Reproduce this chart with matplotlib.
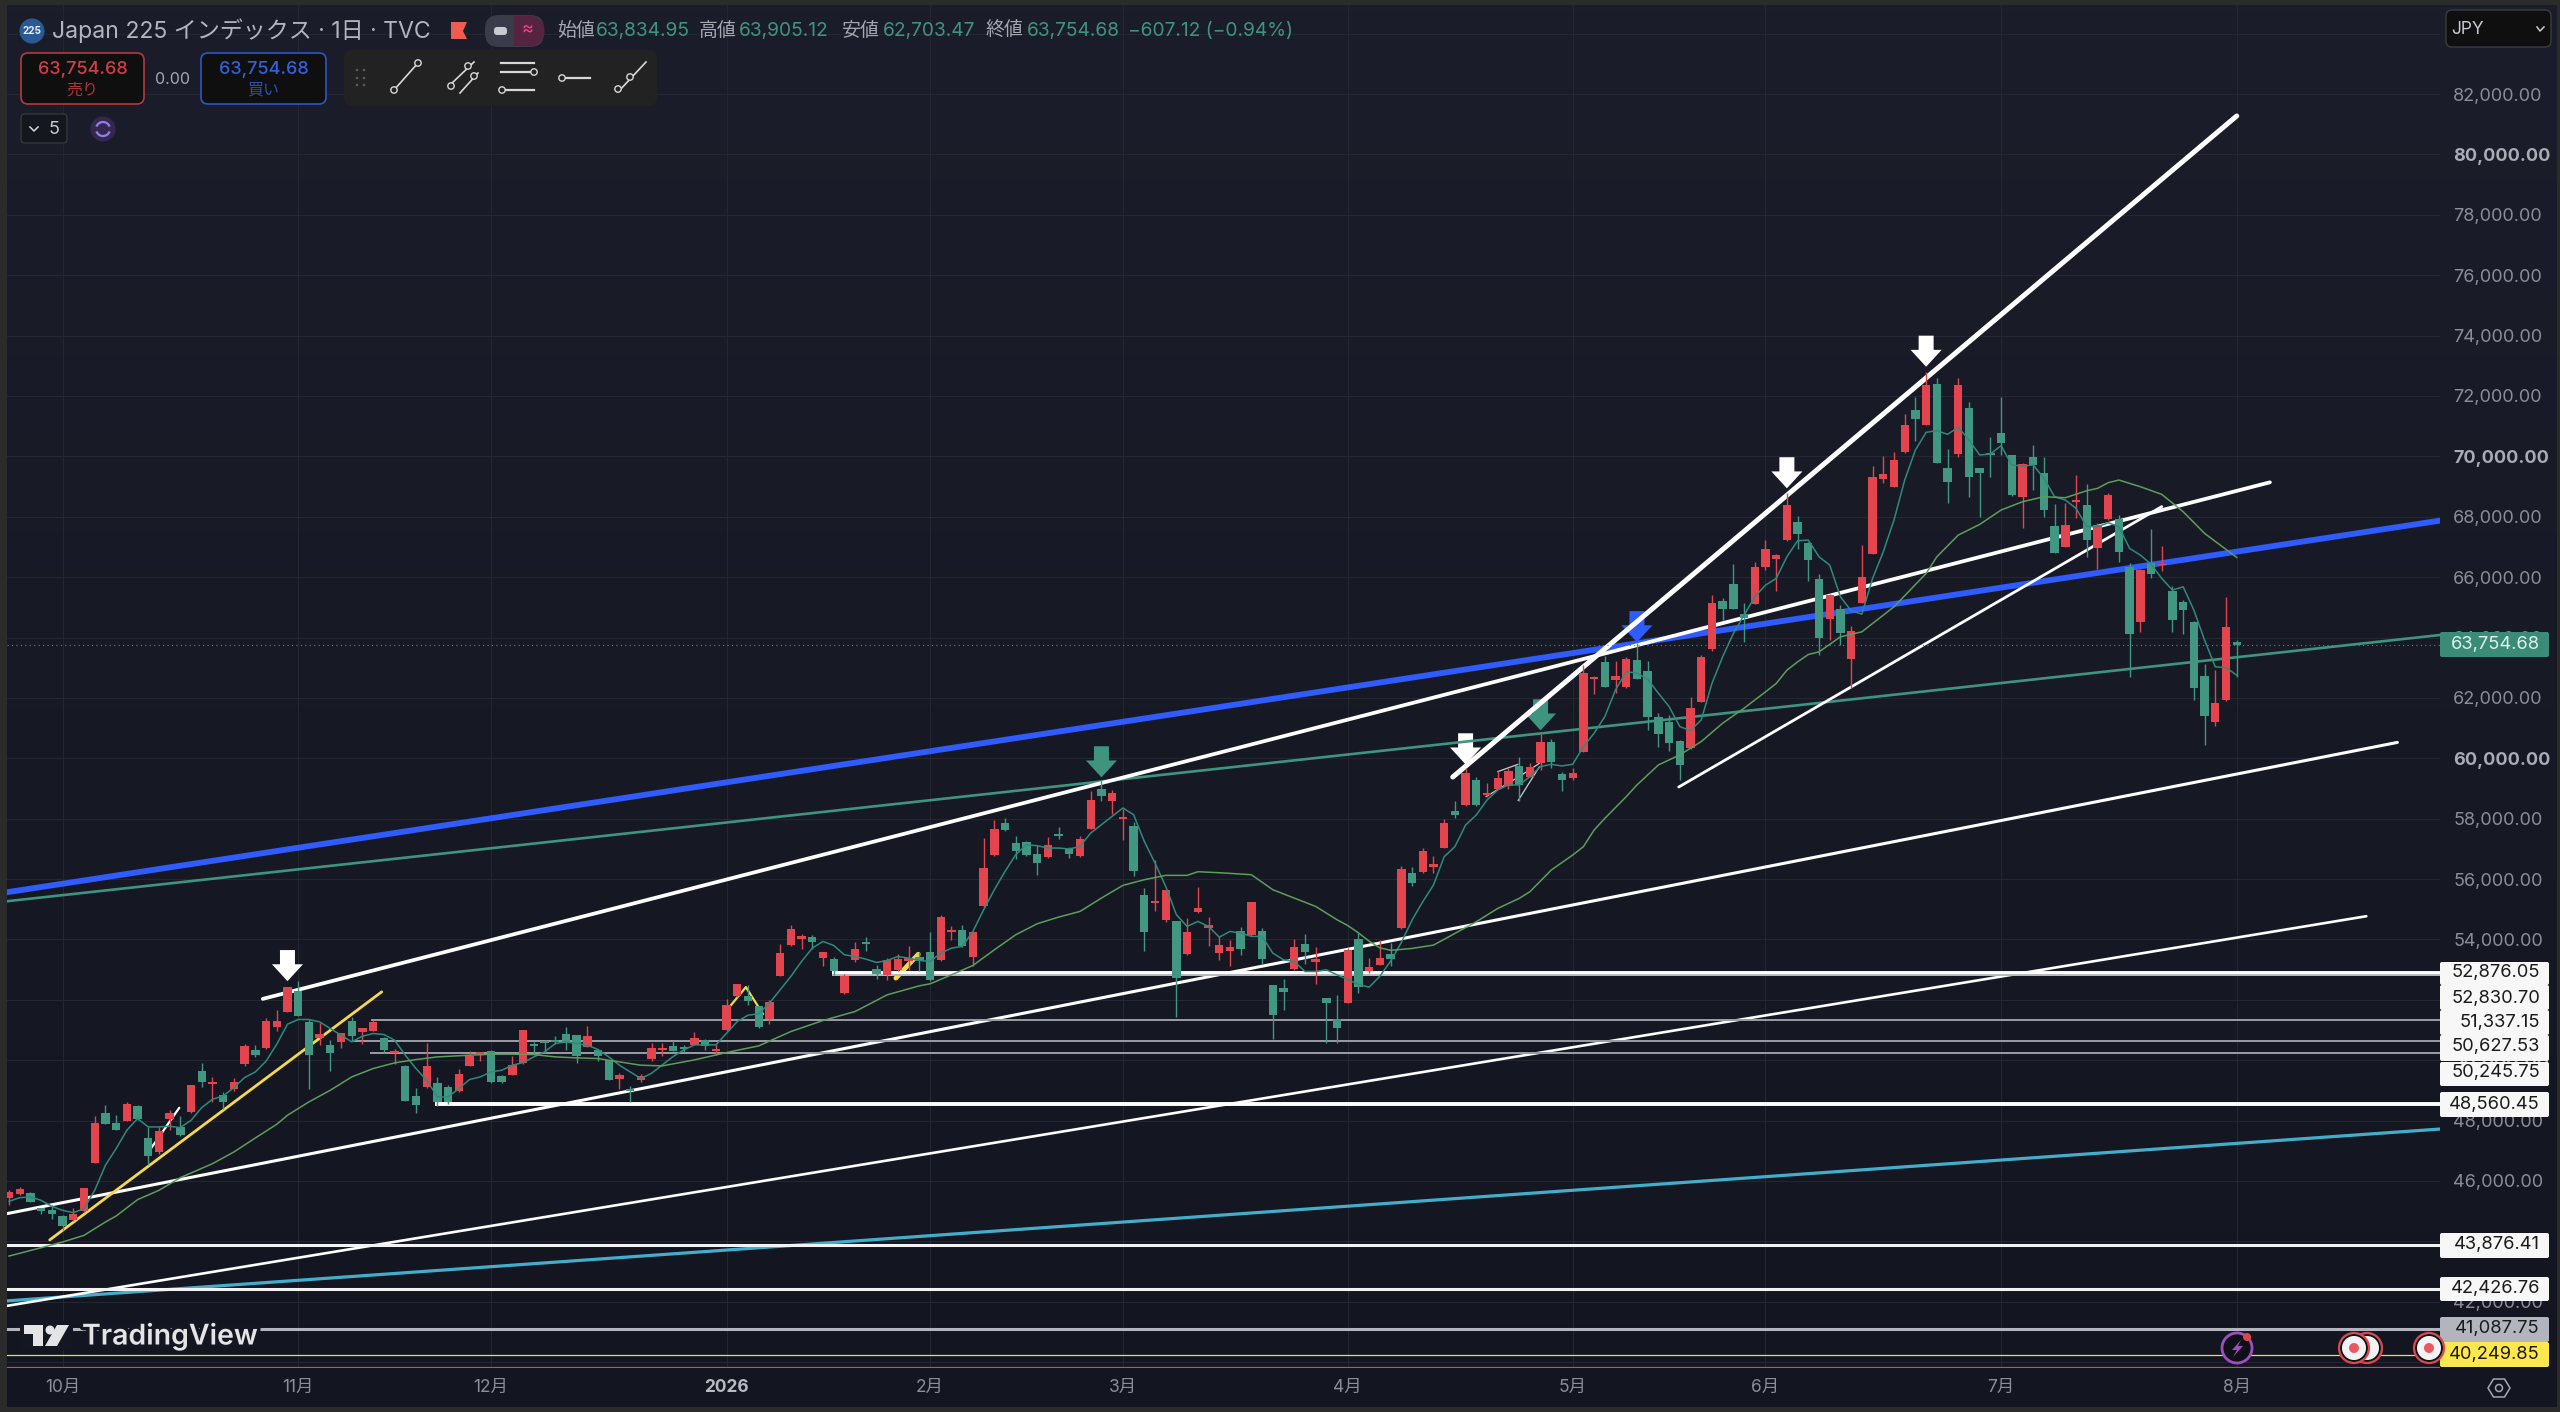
import matplotlib
matplotlib.use("Agg")
import matplotlib.pyplot as plt
import matplotlib.patheffects as pe
from matplotlib.patches import Circle, FancyBboxPatch, Polygon, Arc, Wedge
import numpy as np

plt.rcParams['font.family'] = ['Inter', 'Noto Sans CJK JP', 'DejaVu Sans']

# ---- candles, one entry per trading day ----
opens = [45436,45558,45613,45094,45028,44829,44696,45005,46597,48265,
 47923,48000,48497,47436,46961,48055,47790,48298,49657,49215,
 48840,49061,49879,50332,50420,51105,51602,52287,51271,50751,
 50519,50619,51304,50950,50984,50751,50243,49812,48807,49105,
 49238,49116,48972,49823,50199,50298,49481,49525,49923,50530,
 50641,50685,50884,50829,50442,50331,50022,49370,49050,49359,
 50033,50354,50475,50420,50508,50674,50320,51006,52121,52133,
 51779,51359,52796,53801,54022,54066,53370,53359,52221,53304,
 53912,53017,52829,52995,53282,53414,53569,53315,54232,54298,
 53403,55116,56785,57856,57205,57227,56829,56729,57481,56995,
 56763,57669,58995,58586,57989,57746,55470,55204,54652,54608,
 53503,54895,54376,53558,53624,54276,54133,54276,52475,52387,
 53006,53845,53237,52044,51359,51901,54019,52960,53147,53533,
 54365,56188,56221,56409,57039,58265,58442,59271,58785,58984,
 59083,59757,59381,59834,60553,59481,59359,60221,62630,63205,
 62597,62376,63260,62895,61382,61216,60575,60332,61868,63614,
 65216,65768,64774,65116,66332,66608,67216,67835,67117,65923,
 64608,64929,63282,65150,66763,69260,68995,70144,71537,71050,
 72387,69603,70078,71592,69603,70089,70763,70034,68653,69967,
 69459,67691,67006,68498,68387,66973,67934,67912,66321,64498,
 66453,66387,65547,65161,64520,62718,61216,61923,63834.95]
highs = [45691,45801,45635,45116,45193,44862,45116,45779,48144,48508,
 48177,48619,48508,47790,47790,48342,48144,49171,49923,49447,
 48950,49414,50553,50497,51414,51657,52431,52619,51381,51238,
 50663,50906,51437,51061,51348,50773,50387,49834,49094,50586,
 49447,49171,49724,50309,50276,50331,49503,50133,51006,50608,
 50663,50796,51105,50851,51127,50354,50022,49580,49138,49558,
 50586,50586,50641,50508,50950,50718,50541,52022,52519,52497,
 51801,51978,53834,54486,54166,54133,53569,53414,52851,53923,
 54066,53160,53381,53503,53768,53580,54254,54796,54453,54464,
 54265,57370,57967,58022,57414,57249,57127,57392,57724,57050,
 57414,58906,59271,58961,58332,57879,55702,56619,55646,54619,
 54707,55735,54740,54099,53989,54409,55249,54376,52497,52696,
 54022,54188,53735,52077,52166,53721,54217,53390,53997,53886,
 56431,56409,57017,56763,57978,58597,59669,59381,59183,59580,
 59669,60033,59834,60884,60630,59558,59691,63094,62730,63393,
 63227,63348,63812,63227,61492,61437,60608,62044,63415,65404,
 65293,66431,65150,66509,67227,66752,68796,68034,67161,66100,
 65437,65072,64376,67061,69680,70012,70133,71404,71956,72807,
 72608,70233,72608,71791,69603,70652,71967,70056,69790,70376,
 69967,68421,68443,69382,69072,67780,68774,68056,66453,66255,
 67581,67028,65713,65238,64542,63138,62918,65349,63905.12]
lows = [45193,45525,45304,44895,44729,44364,44674,44972,46597,47900,
 47680,47989,48011,46519,46884,47680,47481,48265,49116,48619,
 48398,48983,49823,50099,50376,50972,51591,51459,49061,50497,
 49646,50409,50641,50530,50972,50243,49867,48652,48254,49083,
 48497,48541,48950,49812,49978,49249,49249,49503,49889,50221,
 50243,50530,50331,49912,50442,49978,49337,49061,48619,49282,
 49978,50144,50298,50287,50497,50343,50177,50983,52088,51834,
 51061,51204,52773,53790,53691,53691,53105,52829,52199,53238,
 53613,52685,52641,52961,52972,52939,52619,53293,53989,53746,
 53105,55039,56774,57580,56663,56752,56144,56707,57326,56685,
 56740,57658,58575,58166,57304,56111,53602,54928,54564,51425,
 53492,54873,53790,53304,53127,53492,54122,53193,50696,51669,
 52995,53193,52519,50563,50586,51890,52232,52893,53147,53114,
 54343,55779,56210,56210,57017,58033,58431,58431,58707,58973,
 58995,58597,59370,59614,59691,58928,59271,60210,62144,62365,
 62155,62343,62619,60939,60365,60243,59282,60310,61868,63558,
 64575,64951,63857,65094,66232,65547,67205,66918,65879,63415,
 63912,63746,62343,65128,66752,69105,68973,70122,70509,71039,
 69769,68465,69989,68641,68000,69327,70045,68686,67614,68884,
 68000,66785,66984,67945,66674,66255,67890,66509,62697,64188,
 65956,66210,64188,64111,61923,60453,61072,61901,62703.47]
closes = [45635,45735,45315,45005,44895,44519,44906,45757,47923,47900,
 47691,48564,48044,46818,47646,48265,47536,49171,49271,49293,
 48608,49293,50486,50188,51304,51304,52409,51470,50188,50884,
 50243,50906,50796,51061,51282,50343,50309,48663,48519,49812,
 48608,48630,49547,50155,50243,49282,49282,49845,51006,50464,
 50575,50619,50575,50144,50818,50144,49348,49503,48983,49481,
 50398,50398,50320,50387,50740,50486,50343,51834,52519,51945,
 51094,51923,53547,54343,54122,53923,53569,52961,52796,53691,
 53834,52862,53326,53359,53392,53282,52641,54740,54298,53790,
 54243,56376,57658,57635,56939,56785,56542,57138,57437,56818,
 57326,58608,58741,58851,58055,56276,54232,55282,55624,52707,
 54243,55039,54464,53823,53757,53680,55249,53348,51481,52243,
 53757,53591,53359,51889,51061,53666,52419,53081,53390,53346,
 56321,55857,56928,56486,57868,58111,59525,58442,58818,59359,
 59569,59116,59724,60553,59868,59271,59514,62829,62707,62376,
 62730,63293,62630,61370,60796,60520,59790,61680,63360,65127,
 64951,64951,64652,66321,66929,66719,68398,67437,66553,63989,
 65404,64133,64221,66012,69305,69404,69879,71039,71238,72354,
 69780,69139,72354,69327,69437,70045,70454,68708,69746,69713,
 68222,66785,67713,68553,67216,67713,68719,66818,64111,66232,
 66089,66431,64575,64906,62343,61404,61846,64332,63754.68]

# fast moving average, one reading per bar
ma_fast = [45326,45447,45470,45359,45160,45028,44950,45083,45690,46519,
 47072,47680,48066,47790,47790,47812,47768,48011,48431,48707,
 48818,49094,49425,49613,49967,50530,51193,51348,51348,51271,
 51050,50829,50608,50796,50884,50851,50663,50166,49724,49337,
 48785,48785,49061,49359,49447,49613,49669,49834,49923,50110,
 50276,50552,50608,50552,50497,50354,50110,49834,49613,49392,
 49569,49845,50121,50342,50508,50508,50508,50895,51282,51492,
 51536,51890,52331,52774,53271,53713,53934,53801,53492,53436,
 53348,53238,53304,53436,53381,53304,53271,53547,53713,53768,
 54265,54983,55646,56254,56807,57138,57105,57028,57028,56995,
 57083,57525,57801,58077,58354,58133,57249,56531,55757,54818,
 54431,54597,54431,54077,54265,54210,54099,54099,53547,53326,
 53271,52939,52939,52994,52829,52673,52507,52419,52783,53280,
 53900,54641,55249,55801,56741,57072,57790,58122,58619,58951,
 59116,59116,59392,59724,59801,59746,59801,60387,60829,61381,
 62265,62873,62818,62619,62155,61713,61050,60917,61271,62476,
 63360,64133,64741,65349,65735,65956,66674,67205,67227,66674,
 66398,65349,64884,64774,65956,66840,67890,69216,70211,70796,
 70851,70730,70962,70542,70045,70078,70354,69713,69680,69713,
 69271,68663,68553,68277,67669,67669,67801,67669,66951,66730,
 66431,65956,65570,65680,64906,63912,63028,63006,62752]

# slow moving average, read at the bends
ma_slow_bar = [0,3,5,7,9,10,12,14,16,19,21,23,25,26,28,30,32,34,36,38,40,43,45,47,49,51,53,55,57,59,
 61,64,67,70,73,76,79,82,85,86,88,90,92,94,96,98,100,102,104,106,108,110,111,113,116,118,120,122,124,
 125,126,127,128,129,131,133,135,137,139,141,142,144,146,147,148,149,151,152,154,156,157,158,160,162,
 164,165,166,167,168,169,171,173,176,179,180,182,184,186,188,190,192,194,195,196,197,199,201,203,205,208]
ma_slow = [43514,43790,43978,44199,44641,44840,45381,45691,46110,46574,46961,47425,47878,48177,48619,49005,49447,49724,49912,50022,50110,50166,50199,50199,50188,50110,50077,50055,49945,49834,
 49812,50011,50254,50475,50950,51315,51613,52166,52464,52530,52829,53138,53657,54155,54519,54740,54928,55370,55790,55978,56122,56122,56243,56210,56144,55646,55370,55094,54652,
 54460,54217,53941,53721,53640,53702,53812,54199,54586,55027,55359,55580,56299,56796,57072,57624,58011,58730,59116,59779,60111,60332,60553,61161,61658,
 62199,62476,62917,63194,63437,63525,64023,64188,65017,66122,66674,67393,67746,68222,68498,68663,68630,68862,68940,69128,69216,68995,68741,68166,67448,66653]

# price axis and month axis
price_ticks = list(range(40000, 86000, 2000))
bold_ticks = [50000, 60000, 70000, 80000]
blank_ticks = [40000, 44000, 52000, 84000]   # behind the level labels / the drop-down
month_bars = [5, 27, 45, 67, 86, 104, 125, 146, 164, 186, 208]
month_labels = ['10月', '11月', '12月', '2026', '2月', '3月', '4月', '5月', '6月', '7月', '8月']

# drawings on the chart: (bar, price) at both ends
trend_lines = [
 ('blue',   [-0.2, 227.0], [55563, 67873], '#2f5bff', 4.2),
 ('teal',   [-0.2, 227.0], [55265, 64084], '#3f9480', 1.9),
 ('cyan',   [-0.2, 227.0], [42029, 47721], '#43aecb', 2.3),
 ('low',    [-0.2, 220.1], [41864, 54769], '#ffffff', 1.9),
 ('mid',    [-0.2, 223.0], [44918, 60526], '#ffffff', 2.2),
 ('upper',  [23.7, 211.1], [52032, 69140], '#ffffff', 2.7),
 ('steep',  [134.8, 208.0], [59378, 81274], '#ffffff', 3.6),
 ('chan',   [155.9, 201.0], [59048, 68336], '#ffffff', 2.0),
 ('yellow', [3.8, 34.8], [44048, 52264], '#f5d94a', 2.0),
 ('short',  [13.3, 15.9], [47100, 48425], '#ffffff', 1.6),
 ('zig',    [67.2, 68.8, 70.4], [51734, 52422, 51526], '#f5d94a', 1.6),
 ('stub',   [82.8, 84.9], [52717, 53511], '#f5d94a', 3.4),
 ('gray1',  [137.9, 141.0, 142.9], [58730, 59392, 59834], '#c9ccd3', 0.9),
 ('gray2',  [139.0, 140.9], [59558, 59801], '#c9ccd3', 0.9),
 ('gray3',  [140.9, 142.9], [58597, 59724], '#c9ccd3', 0.9),
]
# horizontal levels: price, first bar, colour, width
levels = [
 (52876.05, 76.8, '#ffffff', 2.8), (52830.70, 76.8, '#b8bac2', 1.4),
 (51337.15, 33.8, '#9b9ea6', 1.4), (50627.53, 32.0, '#9b9ea6', 1.4),
 (50245.75, 33.7, '#9b9ea6', 1.4), (48560.45, 39.8, '#ffffff', 2.8),
 (43876.41, -1, '#f2f2f2', 2.2), (42426.76, -1, '#f2f2f2', 2.2),
 (41087.75, -1, '#b2b5be', 2.2), (40249.85, -1, '#f0dc5a', 0.9),
 (39850.00, -1, '#e0434b', 0.9),
]
# arrows: bar and price at the tip
arrow_marks = [(26, 52618, '#ffffff'), (102, 59368, '#3f9480'), (136, 59798, '#ffffff'),
 (143, 60924, '#3f9480'), (152, 63845, '#2f5bff'), (166, 68941, '#ffffff'), (179, 72967, '#ffffff')]

level_labels = ['52,876.05', '52,830.70', '51,337.15', '50,627.53', '50,245.75', '48,560.45',
 '43,876.41', '42,426.76', '41,087.75', '40,249.85']

UP = '#e3444d'
DOWN = '#419782'
GRID = '#242732'
BG = '#141722'

fig = plt.figure(figsize=(25.6, 14.12), dpi=100, facecolor='#2b2b2b')

# vertical shading of the panel
bg = fig.add_axes([7/2560, 5/1412, 2550/2560, 1402/1412], zorder=0)
shade = np.linspace(0, 1, 256).reshape(-1, 1)
top_c = np.array([0x1b, 0x1e, 0x2a]) / 255
bot_c = np.array([0x13, 0x16, 0x20]) / 255
bg.imshow(top_c + shade[..., None] * (bot_c - top_c), aspect='auto')
bg.axis('off')

# pixel scale of the chart: 30.19 px per 1000, 10.71 px per bar
ax = fig.add_axes([7/2560, (1412-1368)/1412, 2433/2560, 1363/1412], zorder=1)
ax.patch.set_visible(False)
ax.set_xlim(-0.187, 226.98)
ax.set_ylim(39806, 84949)
for s in ax.spines.values():
    s.set_visible(False)

ax.set_axisbelow(True)
ax.grid(True, color=GRID, lw=0.8)
ax.yaxis.tick_right()
ax.set_yticks(price_ticks)
ax.set_yticklabels([f'{t:,.2f}' if t not in blank_ticks else '' for t in price_ticks], ha='left')
ax.tick_params(axis='y', length=0, pad=9.5, labelsize=13, labelcolor='#8b8e98')
for lab, t in zip(ax.get_yticklabels(), price_ticks):
    if t in bold_ticks:
        lab.set_fontweight('bold')
        lab.set_color('#a9acb4')
ax.set_xticks(month_bars)
ax.set_xticklabels(month_labels)
ax.tick_params(axis='x', length=0, pad=8, labelsize=12.5, labelcolor='#8b8e98')
for lab, name in zip(ax.get_xticklabels(), month_labels):
    if name == '2026':
        lab.set_fontweight('bold')
        lab.set_color('#b8bac2')

# arrows
for bar, tip, col in arrow_marks:
    ax.fill([bar, bar-1.45, bar-0.7, bar-0.7, bar+0.7, bar+0.7, bar+1.45],
            [tip, tip+560, tip+560, tip+1030, tip+1030, tip+560, tip+560], color=col, lw=0, zorder=2)

# drawings
for name, xs, ys, col, lw in trend_lines:
    ax.plot(xs, ys, color=col, lw=lw, zorder=3, solid_capstyle='round')
for price, start, col, lw in levels:
    ax.plot([start, 227], [price, price], color=col, lw=lw, zorder=3, solid_capstyle='butt')
ax.axhline(closes[-1], color='#3f9480', lw=0.8, ls=(0, (1, 3)), zorder=3)

# candles
bars = np.arange(len(opens))
o = np.array(opens)
h = np.array(highs)
l = np.array(lows)
c = np.array(closes)
cols = [UP if a >= b else DOWN for a, b in zip(c, o)]
ax.vlines(bars, l, h, colors=cols, lw=1.0, zorder=4)
ax.bar(bars, np.maximum(np.abs(c-o), 60), bottom=np.minimum(o, c), width=0.78, color=cols, lw=0, zorder=4)

# moving averages
ax.plot(np.arange(len(ma_fast)), ma_fast, color='#2f8a7d', lw=1.1, zorder=5)
ax.plot(ma_slow_bar, ma_slow, color='#5c9e5a', lw=1.1, zorder=5)

# ---- screen furniture, in pixels ----
ui = fig.add_axes([0, 0, 1, 1], zorder=5)
ui.set_xlim(0, 2560)
ui.set_ylim(1412, 0)
ui.axis('off')


def box(x0, y0, x1, y1, fc, ec='none', lw=1.0, r=5, z=2):
    ui.add_patch(FancyBboxPatch((x0+r, y0+r), x1-x0-2*r, y1-y0-2*r, boxstyle=f'round,pad={r}',
                                fc=fc, ec=ec, lw=lw, zorder=z))


def knob(x, y):
    ui.add_patch(Circle((x, y), 3.2, fc='#222222', ec='#d8d8d8', lw=1.0, zorder=4))


def seg(xs, ys, col='#d8d8d8', lw=1.2, z=3):
    ui.plot(xs, ys, color=col, lw=lw, zorder=z)


GRAY = '#a5a8b0'
TEAL = '#3f9480'

# title row
ui.add_patch(Circle((32, 31), 12.5, fc='#2a5a95', zorder=3))
ui.text(32, 31.5, '225', color='#e8eef6', fontsize=7.2, fontweight='bold', ha='center', va='center', zorder=4)
ui.text(52, 31, 'Japan 225 インデックス · 1日 · TVC', color='#b2b5be', fontsize=16.6, va='center')
ui.add_patch(Polygon([(451, 22), (467, 22), (463, 31), (467, 39), (451, 39)], fc='#ef5b50', zorder=3))
box(485, 15, 544, 47, '#3a3d49', r=14)
ui.add_patch(Wedge((529, 31), 15.5, -90, 90, fc='#57243f', zorder=3))
ui.add_patch(FancyBboxPatch((514, 16), 15, 30, boxstyle='square,pad=0', fc='#57243f', ec='none', zorder=3))
box(494, 27, 507, 35, '#c8cad0', r=3, z=4)
ui.text(528, 30.5, '≈', color='#ff3d8b', fontsize=13, ha='center', va='center', zorder=5)
for x, word in [(557, '始値'), (699, '高値'), (842, '安値'), (986, '終値')]:
    ui.text(x, 31, word, color=GRAY, fontsize=13.6, va='center')
for x, word in [(596, '63,834.95'), (739, '63,905.12'), (883, '62,703.47'), (1027, '63,754.68'),
                (1128, '−607.12 (−0.94%)')]:
    ui.text(x, 31, word, color=TEAL, fontsize=13.8, va='center')

# sell / buy
box(21, 53, 144, 104, '#0f0f10', ec='#b23a3f', lw=1.2, r=7)
ui.text(82.5, 70, '63,754.68', color='#cf3f45', fontsize=13, fontweight='medium', ha='center', va='center', zorder=4)
ui.text(82.5, 90, '売り', color='#a93538', fontsize=11.5, ha='center', va='center', zorder=4)
ui.text(172, 79, '0.00', color=GRAY, fontsize=11.5, ha='center', va='center')
box(201, 53, 326, 104, '#0f0f10', ec='#2f55c4', lw=1.2, r=7)
ui.text(263.5, 70, '63,754.68', color='#3560db', fontsize=13, fontweight='medium', ha='center', va='center', zorder=4)
ui.text(263.5, 90, '買い', color='#2c4fb5', fontsize=11.5, ha='center', va='center', zorder=4)

# drawing tools palette
box(344, 50, 657, 106, '#222222', r=9)
for px in (357, 364):
    for py in (70, 78, 85):
        ui.add_patch(Circle((px, py), 1.3, fc='#5a5a5a', zorder=4))
seg([394, 418], [90, 63])
knob(394, 90)
knob(418, 63)
seg([450, 474], [85, 62])
knob(451, 86)
knob(468, 66)
seg([460, 478], [93, 73])
knob(474, 76)
seg([501, 534], [63, 63], lw=1.6)
seg([501, 530], [72, 72], lw=1.6)
knob(534, 72)
seg([504, 534], [90, 90], lw=1.6)
knob(502, 90)
seg([560, 590], [78, 78], lw=1.6)
knob(562, 78)
seg([618, 646], [92, 62])
knob(618, 89)
knob(630, 77)

# collapsed studies
box(21, 114, 67, 143, '#15171f', ec='#34363d', lw=1.0, r=4)
seg([30, 34, 38], [127, 131, 127], col='#d8d8d8', lw=1.1)
ui.text(54, 129, '5', color='#c8cad0', fontsize=13, ha='center', va='center', zorder=4)
ui.add_patch(Circle((103, 129), 12.5, fc='#33284f', zorder=3))
ui.add_patch(Arc((103, 129), 14, 14, theta1=200, theta2=340, ec='#9a7ce8', lw=1.6, zorder=4))
ui.add_patch(Arc((103, 129), 14, 14, theta1=20, theta2=160, ec='#9a7ce8', lw=1.6, zorder=4))

# currency drop-down
box(2446, 10, 2551, 47, '#0f0f10', ec='#3a3c44', lw=1.0, r=6)
ui.text(2451, 29, 'JPY', color='#c8cad0', fontsize=12.5, va='center', zorder=4)
seg([2537, 2540, 2544], [27, 31, 27], col='#c8cad0', lw=1.1, z=4)

# right hand price labels
label_rows = [(973, 962, 985), (998, 985, 1010), (1022, 1010, 1035), (1047, 1035, 1061), (1073, 1062, 1086),
              (1104, 1092, 1117), (1245, 1233, 1258), (1288, 1277, 1301), (1329, 1317, 1342), (1354, 1342, 1367)]
for word, (ym, y0, y1) in zip(level_labels, label_rows):
    fc = '#f7f7f7'
    if word == '41,087.75':
        fc = '#b2b5be'
    if word == '40,249.85':
        fc = '#ffe84d'
    box(2440, y0, 2549, y1, fc, r=2)
    ui.text(2540, ym, word, color='#1a1a1a', fontsize=13.2, ha='right', va='center', zorder=4)
box(2440, 632, 2549, 657, '#3a8c78', r=2)
ui.text(2540, 644.5, '63,754.68', color='#dff1ea', fontsize=13.2, ha='right', va='center', zorder=4)

# watermark
halo = [pe.withStroke(linewidth=5, foreground=BG)]
ui.add_patch(FancyBboxPatch((20, 1321), 53, 29, boxstyle='square,pad=0', fc=BG, ec='none', zorder=3))
ui.add_patch(Polygon([(24, 1325), (43, 1325), (43, 1346), (33, 1346), (33, 1334), (24, 1334)], fc='#e4e4e4', zorder=4))
ui.add_patch(Polygon([(57, 1325), (69, 1325), (57, 1346), (45, 1346)], fc='#e4e4e4', zorder=4))
ui.add_patch(Circle((50, 1330), 4.5, fc='#e4e4e4', zorder=4))
ui.text(82, 1336.5, 'TradingView', color='#e4e4e4', fontsize=20.5, fontweight='semibold', va='center',
        path_effects=halo, zorder=4)

# bottom markers
ui.add_patch(Circle((2237, 1348), 15, fc='#101116', ec='#9b4fc0', lw=2, zorder=4))
ui.add_patch(Polygon([(2241, 1340), (2232, 1350), (2237, 1350), (2233, 1357), (2243, 1346), (2238, 1346)],
                     fc='#9b4fc0', zorder=5))
ui.add_patch(Circle((2247, 1337), 4, fc='#e3444d', zorder=5))
for x in (2367, 2354, 2429):
    ui.add_patch(Circle((x, 1348), 15, fc='#f3f3f6', ec='#e3444d', lw=1.6, zorder=4))
    ui.add_patch(Circle((x, 1348), 13, fc='none', ec='#111111', lw=1.4, zorder=4))
    if x != 2367:
        ui.add_patch(Circle((x, 1348), 5, fc='#e85a62', zorder=5))

# settings
ui.add_patch(Polygon([(2488, 1388), (2493.5, 1379), (2504.5, 1379), (2510, 1388), (2504.5, 1397), (2493.5, 1397)],
                     fc='none', ec='#a5a8b0', lw=1.1, zorder=4))
ui.add_patch(Circle((2499, 1388), 3.5, fc='none', ec='#a5a8b0', lw=1.1, zorder=4))

fig.savefig('out.png', dpi=100, facecolor=fig.get_facecolor())
